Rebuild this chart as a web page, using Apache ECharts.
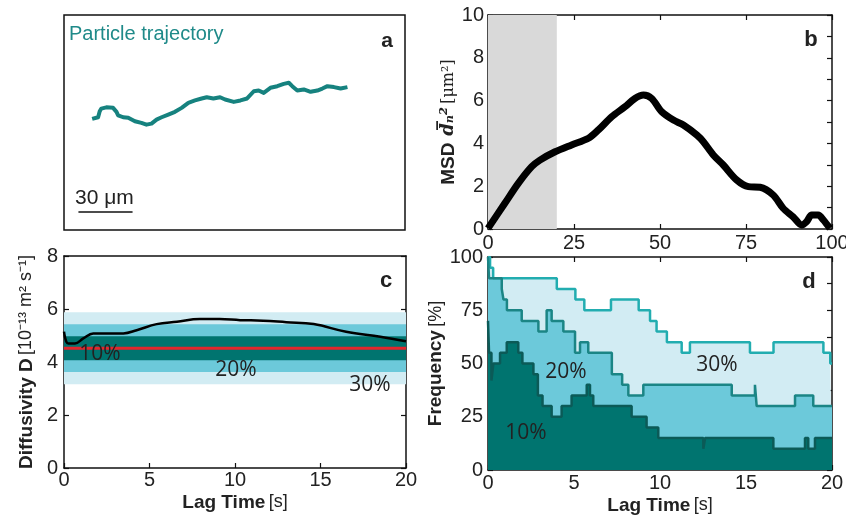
<!DOCTYPE html>
<html>
<head>
<meta charset="utf-8">
<title>Particle diffusivity</title>
<script src="https://cdn.jsdelivr.net/npm/echarts@6/dist/echarts.min.js"></script>
<style>
  html, body { margin: 0; padding: 0; background: #fff; }
  #chart { width: 846px; height: 519px; }
</style>
</head>
<body>
<div id="chart"></div>
<script>
// --- a: particle trajectory, in um
const trajX = [15.6, 18.9, 19.8, 20.7, 23.5, 27.2, 29.1, 30.0, 32.8, 35.6, 39.3, 42.9, 45.7, 48.5, 51.3, 54.1, 57.8, 61.5, 65.2, 68.9, 72.6, 76.3, 79.1, 82.8, 86.5, 89.3, 90.4, 94.1, 97.8, 101.5, 105.2, 107.9, 110.7, 114.4, 118.2, 121.8, 124.6, 126.5, 129.3, 132.9, 136.7, 140.4, 143.2, 146.0, 149.6, 153.3, 157.1]
const trajY = [61.5, 62.4, 65.7, 67.2, 67.9, 67.6, 65.4, 63.5, 62.4, 62.1, 60.2, 59.3, 58.3, 58.9, 61.1, 62.4, 63.9, 65.4, 67.6, 70.4, 71.7, 72.8, 73.5, 72.8, 73.5, 72.2, 71.7, 70.9, 71.7, 72.8, 76.8, 77.2, 75.9, 78.7, 79.6, 80.9, 81.5, 79.6, 77.2, 77.8, 76.5, 77.2, 78.3, 79.6, 79.1, 78.3, 79.1]
const scaleBarX = [8, 38]
const scaleBarY = [10, 10]

// --- b: MSD vs lag index
const msdLag = [0, 4.9, 8.8, 12.7, 15.1, 19.5, 24.3, 29.2, 32.1, 36, 39.8, 42.7, 45.2, 47.6, 50.5, 53.9, 56.8, 60.7, 62.6, 65.5, 68.4, 72.3, 75.7, 79.1, 82.9, 85.8, 88.7, 91.2, 92.6, 94.1, 96.0, 97.5, 99.4]
const msdVal = [0.03, 1.2, 2.13, 2.91, 3.22, 3.61, 3.93, 4.24, 4.63, 5.25, 5.71, 6.1, 6.26, 6.1, 5.48, 5.09, 4.86, 4.39, 4.08, 3.46, 2.99, 2.29, 1.98, 1.95, 1.59, 0.97, 0.57, 0.19, 0.34, 0.65, 0.65, 0.42, 0.03]
const fitRange = [0, 20]

// --- c: diffusivity vs lag time
const diffLag = [0, 0.25, 0.64, 1.13, 1.71, 2.5, 3.47, 4.25, 5.42, 6.6, 7.95, 9.1, 10.3, 11.65, 13.0, 14.6, 16.5, 18.5, 20]
const diffVal = [5.15, 4.7, 4.7, 4.89, 5.08, 5.08, 5.08, 5.2, 5.43, 5.52, 5.62, 5.62, 5.58, 5.56, 5.5, 5.43, 5.14, 4.95, 4.78]
const diffMean = 4.52
const band30 = [3.16, 5.88]
const band20 = [3.62, 5.42]
const band10 = [4.07, 4.97]

// --- d: frequency within band (step curves)
const f30Lag = [0, 0.12, 0.3, 4.0, 5.08, 5.6, 7.15, 8.76, 9.42, 9.8, 10.4, 11.26, 11.74, 15.23, 16.6, 19.5, 19.9, 20]
const f30Val = [100, 95, 90, 85, 80, 75, 80, 75, 70, 65, 60, 55, 60, 55, 60, 55, 50, 50]
const f20Lag = [0, 0.06, 0.8, 0.9, 1.1, 1.96, 2.93, 3.41, 3.7, 4.38, 5.06, 5.35, 5.83, 7.2, 7.8, 8.16, 9.03, 14.17, 15.52, 15.62, 17.85, 18.91, 20]
const f20Val = [100, 90, 85, 80, 75, 70, 65, 75, 70, 65, 55, 60, 55, 45, 40, 35, 40, 35, 40, 30, 35, 30, 30]
const f10Lag = [0, 0.06, 0.2, 0.31, 0.7, 1.09, 1.76, 2.0, 2.64, 2.9, 3.17, 3.7, 4.28, 4.86, 5.74, 5.93, 6.12, 8.35, 9.22, 9.9, 12.52, 12.62, 16.59, 18.43, 18.62, 19.01, 20]
const f10Val = [70, 55, 42, 50, 55, 60, 55, 50, 45, 35, 30, 25, 30, 35, 40, 35, 30, 25, 20, 15, 10, 15, 10, 15, 10, 15, 15]

const FONT = '"Liberation Sans", Arial, sans-serif'
const PCT = '21px "Open Sans", sans-serif'
const tealLight = '#d2ecf3', tealMid = '#6cc9da', tealDark = '#00746f'
const pairs = (xs, ys) => xs.map((x, i) => [x, ys[i]])

function valAxis(o) {
  return Object.assign({
    type: 'value',
    axisLine: { show: true, onZero: false, lineStyle: { color: '#111', width: 1.5 } },
    axisTick: { show: true, inside: true, length: 5, lineStyle: { color: '#111', width: 1.2 } },
    splitLine: { show: false },
    axisLabel: { color: '#222', fontSize: 20, fontFamily: FONT, margin: 4 }
  }, o)
}
const noLabel = { show: false }
const minor = { show: true, splitNumber: 2, length: 5, lineStyle: { color: '#111', width: 1.2 } }
const nameStyle = {
  fontFamily: FONT, color: '#222',
  rich: {
    b: { fontFamily: FONT, fontWeight: 'bold', fontSize: 19, color: '#222' },
    r: { fontFamily: FONT, fontSize: 18, color: '#222' },
    d: { fontFamily: '"DejaVu Serif", serif', fontStyle: 'italic', fontWeight: 'bold', fontSize: 18, color: '#222' },
    s: { fontFamily: '"DejaVu Serif", serif', fontSize: 16, color: '#222' }
  }
}

function label(text, x, y, font, fill) {
  return { type: 'text', z: 100, x: x, y: y, style: { text: text, font: font, fill: fill || '#222', align: 'center', verticalAlign: 'middle' } }
}

const chart = echarts.init(document.getElementById('chart'))
chart.setOption({
  animation: false,
  grid: [
    { left: 64, top: 15, width: 341, height: 215, show: true, borderColor: '#111', borderWidth: 1.5, outerBoundsMode: 'none' },
    { left: 488, top: 15, width: 344, height: 214, outerBoundsMode: 'none' },
    { left: 64, top: 256, width: 342, height: 212, outerBoundsMode: 'none' },
    { left: 488, top: 257, width: 344, height: 213, outerBoundsMode: 'none' }
  ],
  xAxis: [
    { type: 'value', gridIndex: 0, min: 0, max: 189, show: false },
    valAxis({ gridIndex: 1, min: 0, max: 100, interval: 25 }),
    valAxis({ gridIndex: 1, position: 'top', min: 0, max: 100, interval: 25, axisLabel: noLabel }),
    valAxis({ gridIndex: 2, min: 0, max: 20, interval: 5, axisLabel: { color: '#222', fontSize: 20, fontFamily: FONT, margin: 2 },
      name: '{b|Lag Time} {r|[s]}', nameLocation: 'middle', nameGap: 25, nameTextStyle: nameStyle }),
    valAxis({ gridIndex: 2, position: 'top', min: 0, max: 20, interval: 5, axisLabel: noLabel, axisTick: { show: false } }),
    valAxis({ gridIndex: 3, min: 0, max: 20, interval: 5, axisLabel: { color: '#222', fontSize: 20, fontFamily: FONT, margin: 3 },
      name: '{b|Lag Time} {r|[s]}', nameLocation: 'middle', nameGap: 26, nameTextStyle: nameStyle }),
    valAxis({ gridIndex: 3, position: 'top', min: 0, max: 20, interval: 5, axisLabel: noLabel })
  ],
  yAxis: [
    { type: 'value', gridIndex: 0, min: 0, max: 119, show: false },
    valAxis({ gridIndex: 1, min: 0, max: 10, interval: 2, minorTick: minor,
      name: '{b|MSD}  {d|d\u0305\u2099\u00b2} {s|[\u03bcm\u00b2]}', nameLocation: 'middle', nameGap: 26, nameTextStyle: nameStyle }),
    valAxis({ gridIndex: 1, position: 'right', min: 0, max: 10, interval: 2, minorTick: minor, axisLabel: noLabel }),
    valAxis({ gridIndex: 2, min: 0, max: 8, interval: 2, axisLabel: { color: '#222', fontSize: 20, fontFamily: FONT, margin: 6 },
      name: '{b|Diffusivity D} {r|[10\u207b\u00b9\u00b3 m\u00b2 s\u207b\u00b9]}', nameLocation: 'middle', nameGap: 28, nameTextStyle: nameStyle }),
    valAxis({ gridIndex: 2, position: 'right', min: 0, max: 8, interval: 2, axisLabel: noLabel }),
    valAxis({ gridIndex: 3, min: 0, max: 100, interval: 25, axisLabel: { color: '#222', fontSize: 20, fontFamily: FONT, margin: 5 },
      name: '{b|Frequency} {r|[%]}', nameLocation: 'middle', nameGap: 34, nameTextStyle: nameStyle }),
    valAxis({ gridIndex: 3, position: 'right', min: 0, max: 100, interval: 25, minorTick: minor, axisLabel: noLabel })
  ],
  series: [
    // a
    { type: 'line', xAxisIndex: 0, yAxisIndex: 0, data: pairs(trajX, trajY), symbol: 'none',
      lineStyle: { color: '#16827f', width: 4, join: 'round' } },
    { type: 'line', xAxisIndex: 0, yAxisIndex: 0, data: pairs(scaleBarX, scaleBarY), symbol: 'none',
      lineStyle: { color: '#111', width: 1.5 } },
    // b
    { type: 'line', xAxisIndex: 1, yAxisIndex: 1, data: [[0, 0]], symbol: 'none', lineStyle: { width: 0 }, silent: true,
      markArea: { silent: true, itemStyle: { color: '#d9d9d9' }, data: [[{ xAxis: fitRange[0] }, { xAxis: fitRange[1] }]] } },
    { type: 'line', xAxisIndex: 1, yAxisIndex: 1, data: pairs(msdLag, msdVal), symbol: 'none', smooth: 0.3,
      lineStyle: { color: '#000', width: 7 } },
    // c
    { type: 'line', xAxisIndex: 3, yAxisIndex: 3, data: [[0, 0]], symbol: 'none', lineStyle: { width: 0 }, silent: true,
      markArea: { silent: true, data: [
        [{ yAxis: band30[0], itemStyle: { color: tealLight } }, { yAxis: band30[1] }],
        [{ yAxis: band20[0], itemStyle: { color: tealMid } }, { yAxis: band20[1] }],
        [{ yAxis: band10[0], itemStyle: { color: tealDark } }, { yAxis: band10[1] }]
      ] } },
    { type: 'line', xAxisIndex: 3, yAxisIndex: 3, data: [[0, diffMean], [20, diffMean]], symbol: 'none',
      lineStyle: { color: '#e3262c', width: 3 } },
    { type: 'line', xAxisIndex: 3, yAxisIndex: 3, data: pairs(diffLag, diffVal), symbol: 'none', smooth: 0.4,
      lineStyle: { color: '#000', width: 2.5 } },
    // d
    { type: 'line', xAxisIndex: 5, yAxisIndex: 5, step: 'end', data: pairs(f30Lag, f30Val), symbol: 'none',
      lineStyle: { color: '#22adb0', width: 2.5 }, areaStyle: { color: tealLight, opacity: 1 } },
    { type: 'line', xAxisIndex: 5, yAxisIndex: 5, step: 'end', data: pairs(f20Lag, f20Val), symbol: 'none',
      lineStyle: { color: '#1b8585', width: 2.5 }, areaStyle: { color: tealMid, opacity: 1 } },
    { type: 'line', xAxisIndex: 5, yAxisIndex: 5, step: 'end', data: pairs(f10Lag, f10Val), symbol: 'none',
      lineStyle: { color: '#0b5a57', width: 2.5 }, areaStyle: { color: tealDark, opacity: 1 } }
  ],
  graphic: [
    { type: 'text', z: 100, x: 69, y: 34, style: { text: 'Particle trajectory', font: '20px ' + FONT, fill: '#1f8a89', align: 'left', verticalAlign: 'middle' } },
    { type: 'text', z: 100, x: 75, y: 198, style: { text: '30 \u03bcm', font: '21px ' + FONT, fill: '#222', align: 'left', verticalAlign: 'middle' } },
    label('a', 387, 41, 'bold 21px ' + FONT),
    label('b', 811, 40, 'bold 22px ' + FONT),
    label('c', 386, 281, 'bold 22px ' + FONT),
    label('d', 809, 282, 'bold 22px ' + FONT),
    label('10%', 100, 354, PCT),
    label('20%', 236, 370, PCT),
    label('30%', 370, 385, PCT),
    label('30%', 717, 365, PCT),
    label('20%', 566, 372, PCT),
    label('10%', 526, 433, PCT)
  ]
})
window.addEventListener('resize', () => chart.resize())
</script>
</body>
</html>
